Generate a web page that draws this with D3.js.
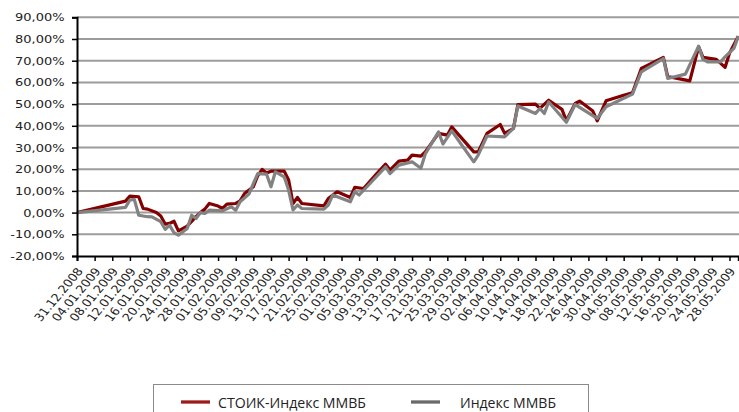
<!DOCTYPE html>
<html>
<head>
<meta charset="utf-8">
<script src="https://cdn.jsdelivr.net/npm/d3@7"></script>
<style>
  body { margin: 0; background: #fff; }
  svg { display: block; }
  .axis text { font-family: "DejaVu Sans", Verdana, sans-serif; fill: #222; }
  .legend text { font-family: "Open Sans", "Noto Sans", sans-serif; fill: #222; }
</style>
</head>
<body>
<svg id="chart"></svg>
<script>
// СТОИК vs MICEX, cumulative return since 31.12.2008
var stoikDates = [
  "31.12.2008","11.01.2009","12.01.2009","14.01.2009","15.01.2009","16.01.2009","18.01.2009","19.01.2009",
  "20.01.2009","21.01.2009","22.01.2009","23.01.2009","25.01.2009","27.01.2009","28.01.2009","29.01.2009",
  "30.01.2009","01.02.2009","02.02.2009","03.02.2009","05.02.2009","06.02.2009","07.02.2009","09.02.2009",
  "10.02.2009","11.02.2009","12.02.2009","13.02.2009","16.02.2009","17.02.2009","18.02.2009","19.02.2009",
  "20.02.2009","25.02.2009","26.02.2009","28.02.2009","03.03.2009","04.03.2009","06.03.2009","09.03.2009",
  "11.03.2009","12.03.2009","14.03.2009","16.03.2009","17.03.2009","19.03.2009","20.03.2009","23.03.2009",
  "25.03.2009","26.03.2009","28.03.2009","31.03.2009","01.04.2009","03.04.2009","06.04.2009","07.04.2009",
  "09.04.2009","10.04.2009","14.04.2009","15.04.2009","17.04.2009","20.04.2009","21.04.2009","23.04.2009",
  "24.04.2009","27.04.2009","28.04.2009","30.04.2009","04.05.2009","06.05.2009","08.05.2009","13.05.2009",
  "14.05.2009","15.05.2009","19.05.2009","21.05.2009","22.05.2009","25.05.2009","27.05.2009","28.05.2009",
  "30.05.2009"];
var stoikValues = [
  0, 5.3, 7.6, 7.3, 1.9, 1.6, 0, -1.6,
  -5.3, -5.0, -4.0, -8.4, -6.2, -1.9, 0, 1.6,
  4.2, 3.0, 1.9, 3.9, 4.2, 5.4, 8.8, 11.9,
  17.0, 19.9, 18.3, 19.1, 19.1, 15.0, 4.2, 7.0,
  4.2, 3.1, 6.5, 9.6, 7.0, 11.6, 11.1, 18.0,
  22.3, 19.6, 23.7, 24.2, 26.5, 26.0, 28.0, 36.5,
  35.7, 39.5, 34.9, 28.0, 28.0, 36.5, 40.6, 36.5,
  38.8, 49.8, 50.0, 48.0, 51.8, 47.6, 42.3, 50.3,
  51.4, 46.8, 42.3, 51.5, 54.1, 55.2, 66.4, 71.5,
  62.6, 62.3, 60.7, 76.4, 71.5, 70.6, 66.9, 73.4,
  81.3];

var micexDates = [
  "31.12.2008","11.01.2009","12.01.2009","13.01.2009","14.01.2009","16.01.2009","17.01.2009","19.01.2009",
  "20.01.2009","21.01.2009","22.01.2009","23.01.2009","25.01.2009","26.01.2009","27.01.2009","28.01.2009",
  "29.01.2009","30.01.2009","02.02.2009","04.02.2009","05.02.2009","06.02.2009","08.02.2009","09.02.2009",
  "10.02.2009","12.02.2009","13.02.2009","14.02.2009","16.02.2009","17.02.2009","18.02.2009","19.02.2009",
  "20.02.2009","25.02.2009","26.02.2009","27.02.2009","03.03.2009","04.03.2009","05.03.2009","11.03.2009",
  "12.03.2009","14.03.2009","17.03.2009","19.03.2009","20.03.2009","23.03.2009","24.03.2009","26.03.2009",
  "28.03.2009","31.03.2009","01.04.2009","03.04.2009","07.04.2009","09.04.2009","10.04.2009","14.04.2009",
  "15.04.2009","16.04.2009","17.04.2009","21.04.2009","23.04.2009","28.04.2009","30.04.2009","06.05.2009",
  "08.05.2009","13.05.2009","14.05.2009","18.05.2009","21.05.2009","22.05.2009","23.05.2009","26.05.2009",
  "27.05.2009","29.05.2009","30.05.2009"];
var micexValues = [
  0, 2.4, 5.8, 6.1, -1.2, -1.9, -2.0, -4.2,
  -7.7, -5.8, -9.3, -10.4, -7.3, -1.2, -2.7, 0,
  -0.4, 1.1, 0.8, 2.7, 1.1, 5.0, 8.5, 13.4,
  18.0, 17.7, 11.9, 18.8, 16.5, 10.4, 1.2, 3.5,
  1.9, 1.6, 3.5, 8.1, 5.0, 9.6, 8.1, 21.1,
  18.0, 21.9, 23.4, 20.4, 27.0, 37.2, 31.6, 37.7,
  31.9, 23.4, 26.5, 35.3, 34.9, 38.8, 49.1, 45.7,
  48.0, 45.7, 51.0, 41.6, 49.8, 43.4, 48.8, 54.6,
  64.9, 71.0, 61.8, 63.8, 76.7, 70.6, 69.5, 69.5,
  71.8, 75.7, 81.3];

var tickDates = ["31.12.2008","04.01.2009","08.01.2009","12.01.2009","16.01.2009","20.01.2009","24.01.2009",
  "28.01.2009","01.02.2009","05.02.2009","09.02.2009","13.02.2009","17.02.2009","21.02.2009","25.02.2009",
  "01.03.2009","05.03.2009","09.03.2009","13.03.2009","17.03.2009","21.03.2009","25.03.2009","29.03.2009",
  "02.04.2009","06.04.2009","10.04.2009","14.04.2009","18.04.2009","22.04.2009","26.04.2009","30.04.2009",
  "04.05.2009","08.05.2009","12.05.2009","16.05.2009","20.05.2009","24.05.2009","28.05.2009"];
var yTicks = [-20, -10, 0, 10, 20, 30, 40, 50, 60, 70, 80, 90];
var seriesNames = ["СТОИК-Индекс ММВБ", "Индекс ММВБ"];

var width = 739, height = 412;
var plotLeft = 77, plotRight = 738.3, plotTop = 17.3, plotBottom = 256;
var stretch = 1.16; // the picture is a bit wider than tall

var parse = d3.timeParse("%d.%m.%Y");
var fmt = d3.timeFormat("%d.%m.%Y");

var svg = d3.select("#chart").attr("width", width).attr("height", height);

var x = d3.scaleTime()
  .domain([parse("31.12.2008"), parse("30.05.2009")])
  .range([plotLeft, plotRight]);
var y = d3.scaleLinear().domain([-20, 90]).range([plotBottom, plotTop]);

//gridlines
svg.append("g").selectAll("line")
  .data(yTicks.filter(function(d){ return d > -20; }))
  .enter().append("line")
    .attr("x1", plotLeft).attr("x2", width)
    .attr("y1", function(d){ return y(d); })
    .attr("y2", function(d){ return y(d); })
    .attr("stroke", "#9c9c9c")
    .attr("stroke-width", 2);

//lines
var line = d3.line()
  .x(function(d){ return x(d.date); })
  .y(function(d){ return y(d.value); });

var stoik = stoikDates.map(function(d, i){ return {date: parse(d), value: stoikValues[i]}; });
var micex = micexDates.map(function(d, i){ return {date: parse(d), value: micexValues[i]}; });

svg.append("path").datum(stoik)
  .attr("d", line).attr("fill", "none")
  .attr("stroke", "#840000").attr("stroke-width", 3.2)
  .attr("stroke-linejoin", "round");
svg.append("path").datum(micex)
  .attr("d", line).attr("fill", "none")
  .attr("stroke", "#828282").attr("stroke-width", 3.2)
  .attr("stroke-linejoin", "round");

//axes
var yAxis = svg.append("g").attr("class", "axis")
  .attr("transform", "translate(" + plotLeft + ",0)")
  .call(d3.axisLeft(y).tickValues(yTicks).tickSize(5).tickPadding(7.5)
    .tickFormat(function(d){ return d.toFixed(2).replace(".", ",") + "%"; }));
yAxis.selectAll("text")
  .style("font-size", "11.2px")
  .attr("x", -12.5 / stretch)
  .attr("transform", "scale(" + stretch + ",1)");

var xAxis = svg.append("g").attr("class", "axis")
  .attr("transform", "translate(0," + plotBottom + ")")
  .call(d3.axisBottom(x).tickValues(tickDates.map(parse)).tickSize(5).tickFormat(fmt));
xAxis.selectAll("text")
  .style("font-size", "11px")
  .style("text-anchor", "end")
  .attr("x", 0)
  .attr("y", 0)
  .attr("dy", "0.35em")
  .attr("transform", "translate(2.5,13) scale(" + stretch + ",1) rotate(-54)");

svg.selectAll(".axis path, .axis line").attr("stroke", "#000").attr("stroke-width", 1.5);
svg.selectAll(".axis path").attr("stroke-width", 2);

//legend
var legend = svg.append("g").attr("class", "legend");
legend.append("rect")
  .attr("x", 153.5).attr("y", 384.5).attr("width", 435).attr("height", 40)
  .attr("fill", "none").attr("stroke", "#8a8a8a").attr("stroke-width", 1);
var legendItems = [
  {name: seriesNames[0], color: "#9b1c1c", x: 181, tx: 218, w: 148},
  {name: seriesNames[1], color: "#6a6a6a", x: 411, tx: 460, w: 96}
];
legendItems.forEach(function(d){
  legend.append("line")
    .attr("x1", d.x).attr("x2", d.x + 29).attr("y1", 402).attr("y2", 402)
    .attr("stroke", d.color).attr("stroke-width", 3.3);
  legend.append("text")
    .attr("x", d.tx).attr("y", 408)
    .attr("textLength", d.w)
    .attr("lengthAdjust", "spacingAndGlyphs")
    .style("font-size", "15px")
    .text(d.name);
});
</script>
</body>
</html>
